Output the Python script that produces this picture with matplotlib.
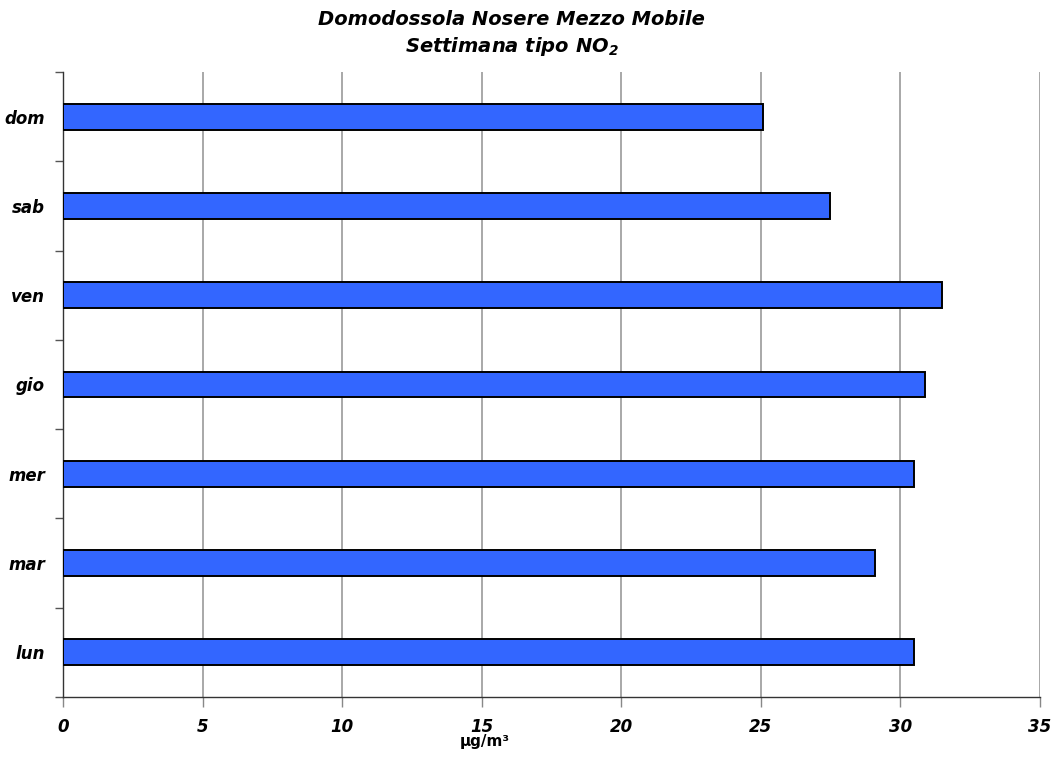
import matplotlib
matplotlib.use("Agg")
import matplotlib.pyplot as plt
import numpy as np

days = ["lun", "mar", "mer", "gio", "ven", "sab", "dom"]
values = [30.5, 29.1, 30.5, 30.9, 31.5, 27.5, 25.1]
xticks = [0, 5, 10, 15, 20, 25, 30, 35]

plt.rcParams['font.family'] = ['DejaVu Sans']
plt.rcParams['mathtext.fontset'] = 'custom'
plt.rcParams['mathtext.rm'] = 'DejaVu Sans:italic:bold'
plt.rcParams['mathtext.it'] = 'DejaVu Sans:italic:bold'
plt.rcParams['mathtext.bf'] = 'DejaVu Sans:italic:bold'

fig = plt.figure(figsize=(10.62, 7.58), dpi=100)
ax = fig.add_axes([0.0593, 0.0805, 0.9197, 0.8245])

y = np.arange(len(days))
ax.barh(y, values, height=0.29, color="#3366FF", edgecolor="black", linewidth=1.4, zorder=3)

ax.set_xlim(0, 35)
ax.set_ylim(-0.5, len(days) - 0.5)
ax.set_xticks(xticks)
ax.set_xticklabels([str(t) for t in xticks], fontsize=12, fontweight='bold', fontstyle='italic')
ax.set_yticks(y)
ax.set_yticklabels(days, fontsize=12, fontweight='bold', fontstyle='italic')
ax.set_yticks(np.arange(-0.5, len(days), 1.0), minor=True)
ax.tick_params(axis='y', which='major', length=0, pad=13)
ax.tick_params(axis='y', which='minor', length=6, width=1, color='#555555')
ax.tick_params(axis='x', which='major', length=7, width=1, color='#888888', pad=8)

ax.grid(axis='x', color='#999999', linewidth=1.2, zorder=0)
ax.set_axisbelow(True)
for s in ['top', 'right']:
    ax.spines[s].set_visible(False)
ax.spines['left'].set_color('#333333')
ax.spines['bottom'].set_color('#333333')
ax.spines['left'].set_linewidth(1)
ax.spines['bottom'].set_linewidth(1)

ax.set_xlabel("µg/m³", fontsize=11, fontweight='bold')
ax.xaxis.set_label_coords(0.432, -0.06)

fig.text(0.482, 0.974, "Domodossola Nosere Mezzo Mobile", ha='center', va='center',
         fontsize=14, fontweight='bold', fontstyle='italic')
fig.text(0.482, 0.938, "Settimana tipo NO$_{2}$", ha='center', va='center',
         fontsize=14, fontweight='bold', fontstyle='italic')

fig.savefig("out.png", dpi=100)
